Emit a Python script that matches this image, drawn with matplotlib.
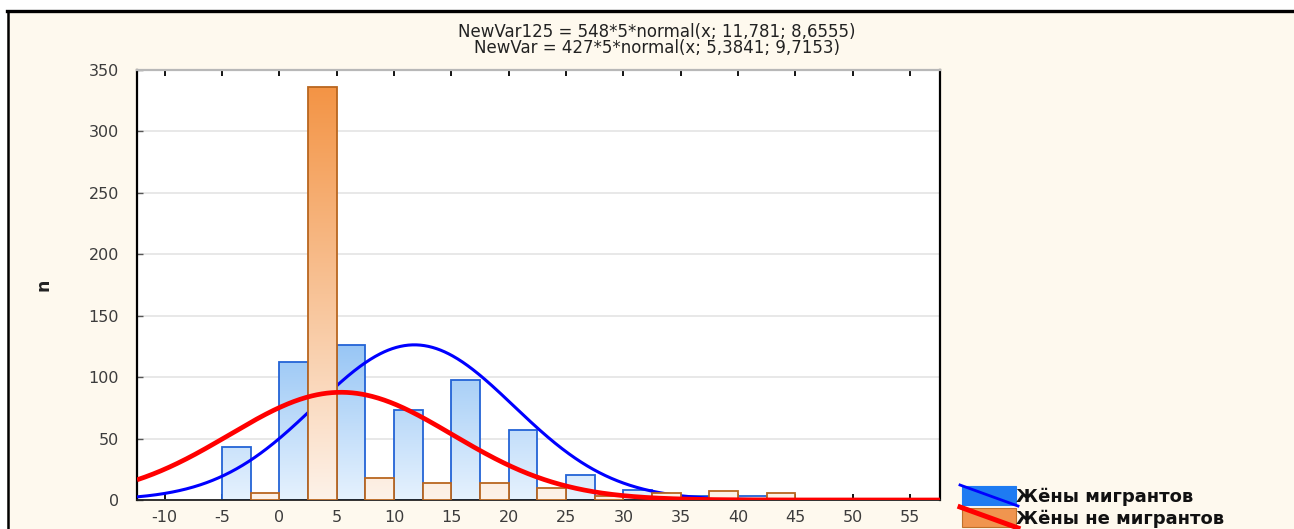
import numpy as np
import matplotlib
matplotlib.use("Agg")
import matplotlib.pyplot as plt
from matplotlib.colors import LinearSegmentedColormap
from matplotlib.path import Path
from matplotlib.patches import Rectangle
from matplotlib.lines import Line2D

# ---------------- data ----------------
bin_starts = [-5, 0, 5, 10, 15, 20, 25, 30, 35, 40]
migrant_wives = [43, 112, 126, 73, 98, 57, 20, 8, 3, 3]
nonmigrant_wives = [6, 336, 18, 14, 14, 10, 3, 6, 7, 6]
series_names = ["Жёны мигрантов", "Жёны не мигрантов"]
fit_migrant_n, fit_migrant_mean, fit_migrant_sd = 548, 11.781, 8.6555
fit_nonmigrant_n, fit_nonmigrant_mean, fit_nonmigrant_sd = 427, 5.3841, 9.7153
bin_width = 5
title_lines = ["NewVar125 = 548*5*normal(x; 11,781; 8,6555)",
               "NewVar = 427*5*normal(x; 5,3841; 9,7153)"]
x_ticks = list(range(-10, 60, 5))
y_ticks = list(range(0, 351, 50))
y_label = "n"

# ---------------- figure ----------------
W, H = 1294, 529
CREAM = "#FEF9EE"
fig = plt.figure(figsize=(W / 100, H / 100), dpi=100, facecolor=CREAM)


def fx(px):
    return px / W


def fy(py):
    return 1 - py / H


ax = fig.add_axes([fx(137), fy(500), (940 - 137) / W, (500 - 70) / H])
ax.set_facecolor("white")
xmin, xmax = -12.4, 57.6
ymin, ymax = 0, 350

half = bin_width / 2
blue_bars = ax.bar(bin_starts, migrant_wives, width=half, align="edge",
                   facecolor="none", edgecolor="#2363D6", linewidth=1.3, zorder=2.1)
orange_bars = ax.bar([b + half for b in bin_starts], nonmigrant_wives, width=half,
                     align="edge", facecolor="none", edgecolor="#B9661F",
                     linewidth=1.3, zorder=4.1)


def gradient_fill(bars, c_bottom, c_top, ytop, z):
    cmap = LinearSegmentedColormap.from_list("g", [c_bottom, c_top])
    grad = np.linspace(0, 1, 256).reshape(-1, 1)
    im = ax.imshow(grad, cmap=cmap, extent=(xmin, xmax, 0, ytop), origin="lower",
                   aspect="auto", zorder=z, interpolation="bilinear")
    paths = [p.get_path().transformed(p.get_patch_transform()) for p in bars.patches]
    im.set_clip_path(Path.make_compound_path(*paths), ax.transData)


gradient_fill(blue_bars, "#E6F2FE", "#98C6F5", max(migrant_wives), 2.0)
gradient_fill(orange_bars, "#FDF2E9", "#F39445", max(nonmigrant_wives), 4.0)

xs = np.linspace(xmin, xmax, 800)


def normal_curve(n, mean, sd):
    return n * bin_width * np.exp(-0.5 * ((xs - mean) / sd) ** 2) / (sd * np.sqrt(2 * np.pi))


ax.plot(xs, normal_curve(fit_migrant_n, fit_migrant_mean, fit_migrant_sd),
        color="#0000FF", lw=2.2, zorder=3, solid_capstyle="butt")
ax.plot(xs, normal_curve(fit_nonmigrant_n, fit_nonmigrant_mean, fit_nonmigrant_sd),
        color="#FF0000", lw=3.4, zorder=5, solid_capstyle="butt")

ax.set_xlim(xmin, xmax)
ax.set_ylim(ymin, ymax)
ax.set_xticks(x_ticks)
ax.set_yticks(y_ticks)
ax.set_xticklabels([str(t) for t in x_ticks])
ax.set_yticklabels([str(t) for t in y_ticks])
ax.yaxis.grid(True, color="#E4E4E4", lw=1.2, zorder=0.5)
ax.set_axisbelow(True)
ax.tick_params(axis="x", direction="in", top=True, bottom=True, length=4, width=1.3,
               color="black", labelsize=11.5, labelcolor="#3C3C3C", pad=7)
ax.tick_params(axis="y", direction="in", left=True, right=False, length=4, width=1.0,
               color="#555555", labelsize=11.5, labelcolor="#3C3C3C", pad=13)
for lab in ax.get_xticklabels() + ax.get_yticklabels():
    lab.set_family("DejaVu Sans")

ax.spines["left"].set_color("black")
ax.spines["left"].set_linewidth(1.6)
ax.spines["bottom"].set_color("#222222")
ax.spines["bottom"].set_linewidth(1.3)
ax.spines["right"].set_color("black")
ax.spines["right"].set_linewidth(1.6)
ax.spines["top"].set_color("#B8B8B8")
ax.spines["top"].set_linewidth(1.6)

fig.text(fx(44), fy(285), y_label, rotation=90, ha="center", va="center",
         fontsize=12.5, fontweight="bold", color="#222222", family="DejaVu Sans")

fig.text(fx(657), fy(32), title_lines[0], ha="center", va="center",
         fontsize=12, color="#222222", family="DejaVu Sans")
fig.text(fx(657), fy(48), title_lines[1], ha="center", va="center",
         fontsize=12, color="#222222", family="DejaVu Sans")

# ---------------- legend (manual, outside right) ----------------
legend_items = [
    (series_names[0], "#1E7BF2", "#1E7BF2", "#0000FF", 2.0, 486, 505),
    (series_names[1], "#F0954F", "#C0702A", "#FF0000", 3.6, 508, 527),
]
for name, face, edge, lc, lw, y0, y1 in legend_items:
    fig.add_artist(Rectangle((fx(962), fy(y1)), (1016 - 962) / W, (y1 - y0) / H,
                             transform=fig.transFigure, facecolor=face,
                             edgecolor=edge, lw=0.8, zorder=10))
    fig.add_artist(Line2D([fx(960), fx(1018)], [fy(y0 - 1), fy(y1 + 1)],
                          transform=fig.transFigure, color=lc, lw=lw, zorder=11))
    fig.text(fx(1016), fy((y0 + y1) / 2 + 1), name, ha="left", va="center",
             fontsize=13, fontweight="bold", color="#111111",
             family="DejaVu Sans", zorder=12)

# ---------------- outer frame ----------------
fig.add_artist(Rectangle((0, fy(10)), 1, 10 / H, transform=fig.transFigure,
                         facecolor="white", edgecolor="none", zorder=0))
fig.add_artist(Rectangle((0, 0), 7 / W, 1, transform=fig.transFigure,
                         facecolor="white", edgecolor="none", zorder=0))
fig.add_artist(Line2D([fx(7), 1], [fy(11), fy(11)], transform=fig.transFigure,
                      color="black", lw=2.4, zorder=20))
fig.add_artist(Line2D([fx(8), fx(8)], [fy(11), 0], transform=fig.transFigure,
                      color="black", lw=1.8, zorder=20))

fig.savefig("out.png", dpi=100, facecolor=CREAM)
